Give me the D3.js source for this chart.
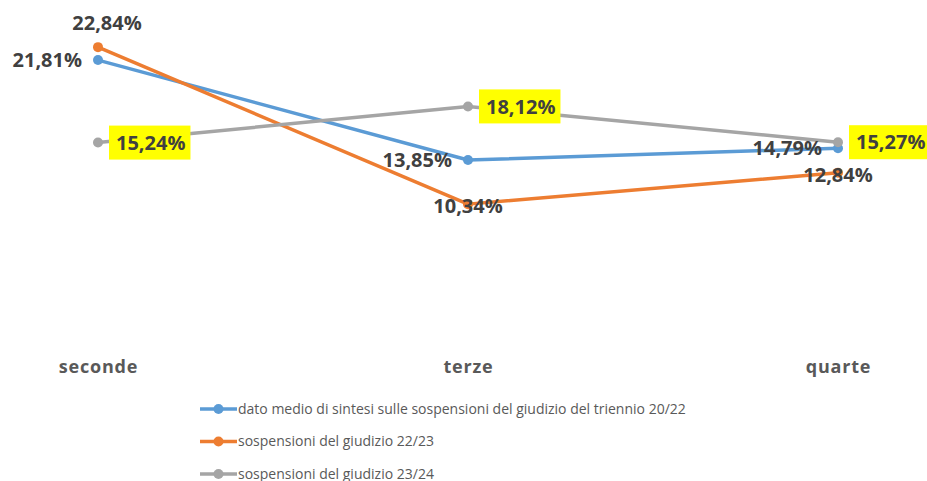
<!DOCTYPE html>
<html>
<head>
<meta charset="utf-8">
<script src="https://cdn.jsdelivr.net/npm/d3@7"></script>
<style>
  body { margin: 0; background: #fff; }
  svg { display: block; font-family: "Open Sans", "Liberation Sans", sans-serif; }
</style>
</head>
<body>
<svg id="chart" width="927" height="481"></svg>
<script>
// data
var categories = ["seconde", "terze", "quarte"]
var seriesNames = [
  "dato medio di sintesi sulle sospensioni del giudizio del triennio 20/22",
  "sospensioni del giudizio 22/23",
  "sospensioni del giudizio 23/24"
]
var triennio = [21.81, 13.85, 14.79]
var anno2223 = [22.84, 10.34, 12.84]
var anno2324 = [15.24, 18.12, 15.27]
var colors = ["#5B9BD5", "#ED7D31", "#A5A5A5"]
// label placement per point: left / above / right / center
var labelPos = [
  ["left", "left", "left"],
  ["above", "center", "center"],
  ["right", "right", "right"]
]
var highlight = [false, false, true]

var svg = d3.select("#chart")

var x = d3.scalePoint().domain(categories).range([98, 838])
var y = d3.scaleLinear().domain([0, 25]).range([334, 20])

var series = [triennio, anno2223, anno2324].map(function(vals, i) {
  return {
    name: seriesNames[i],
    color: colors[i],
    points: vals.map(function(v, j) { return { cat: categories[j], value: v, pos: labelPos[i][j] } })
  }
})

var line = d3.line()
  .x(function(d) { return x(d.cat) })
  .y(function(d) { return y(d.value) })

var g = svg.append("g")

series.forEach(function(s) {
  g.append("path")
    .attr("d", line(s.points))
    .attr("fill", "none")
    .attr("stroke", s.color)
    .attr("stroke-width", 3.5)
    .attr("stroke-linejoin", "round")
  g.selectAll(null)
    .data(s.points)
    .join("circle")
    .attr("cx", function(d) { return x(d.cat) })
    .attr("cy", function(d) { return y(d.value) })
    .attr("r", 5)
    .attr("fill", s.color)
})

// category labels (x axis with hidden line)
var xAxis = svg.append("g")
  .attr("transform", "translate(0,357)")
  .call(d3.axisBottom(x).tickSize(0))
xAxis.select(".domain").remove()
xAxis.selectAll("text")
  .attr("font-family", "'Open Sans', 'Liberation Sans', sans-serif")
  .attr("font-size", 18)
  .attr("letter-spacing", 0.8)
  .attr("font-weight", "bold")
  .attr("fill", "#595959")

function fmt(v) { return v.toFixed(2).replace(".", ",") + "%" }

// data labels
series.forEach(function(s, i) {
  s.points.forEach(function(d) {
    var px = x(d.cat), py = y(d.value)
    var tx = px, ty = py, anchor = "middle"
    if (d.pos == "left") { tx = px - 16; anchor = "end" }
    if (d.pos == "right") { tx = px + 18; anchor = "start" }
    if (d.pos == "above") { tx = px + 9; ty = py - 24 }
    if (d.pos == "center") { ty = py + 2 }
    var t = g.append("text")
      .attr("x", tx)
      .attr("y", ty)
      .attr("dy", "0.36em")
      .attr("text-anchor", anchor)
      .attr("font-size", 20)
      .attr("font-weight", "bold")
      .attr("fill", "#404040")
      .text(fmt(d.value))
    if (highlight[i]) {
      var bb = t.node().getBBox()
      g.insert("rect", function() { return t.node() })
        .attr("x", bb.x - 7)
        .attr("y", py - 17)
        .attr("width", bb.width + 12)
        .attr("height", 34)
        .attr("fill", "#FFFF00")
    }
  })
})

// legend
var legend = svg.append("g")
series.forEach(function(s, i) {
  var ly = 409 + i * 32.5
  legend.append("line")
    .attr("x1", 200).attr("x2", 237)
    .attr("y1", ly).attr("y2", ly)
    .attr("stroke", s.color)
    .attr("stroke-width", 3.5)
  legend.append("circle")
    .attr("cx", 218.5).attr("cy", ly)
    .attr("r", 5)
    .attr("fill", s.color)
  legend.append("text")
    .attr("x", 238)
    .attr("y", ly)
    .attr("dy", "0.35em")
    .attr("font-size", 14)
    .attr("fill", "#595959")
    .text(s.name)
})
</script>
</body>
</html>
